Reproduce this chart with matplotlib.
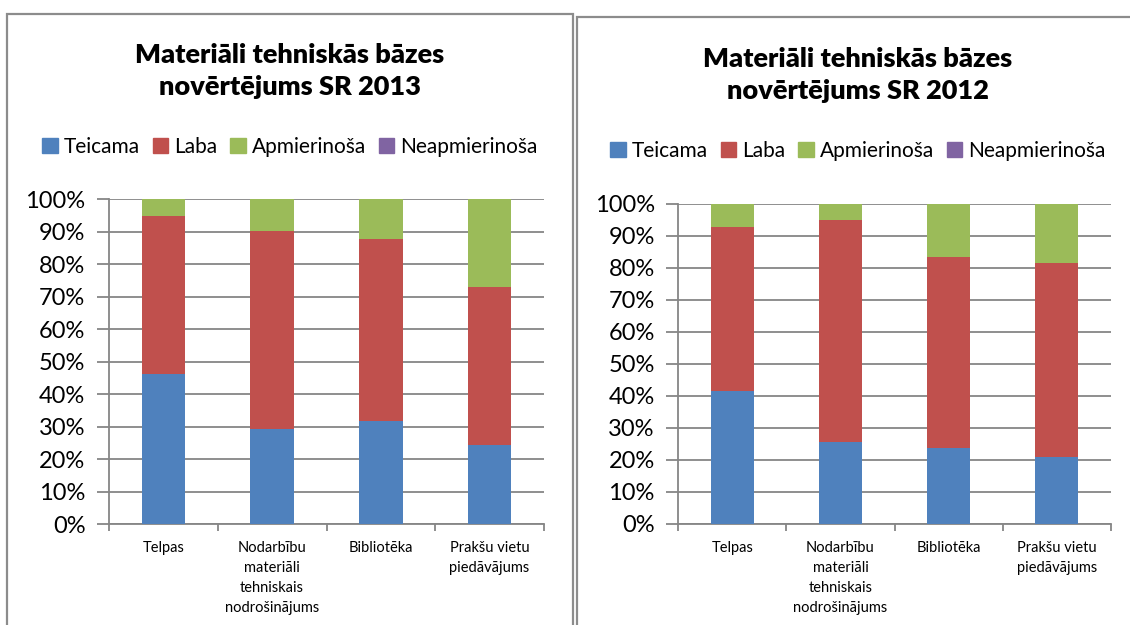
import numpy as np
import matplotlib
matplotlib.use("Agg")
import matplotlib.pyplot as plt
from matplotlib.patches import Rectangle, Patch

plt.rcParams['font.family'] = ['Lato', 'DejaVu Sans']

# data (percent)
categories = ["Telpas", "Nodarbību\nmateriāli\ntehniskais\nnodrošinājums",
              "Bibliotēka", "Prakšu vietu\npiedāvājums"]
series = ["Teicama", "Laba", "Apmierinoša", "Neapmierinoša"]
colors = ["#4F81BD", "#C0504D", "#9BBB59", "#8064A2"]

teicama_2013 = [46.3, 29.2, 31.7, 24.3]
laba_2013 = [48.7, 61.0, 56.1, 48.8]
apmier_2013 = [5.0, 9.8, 12.2, 26.9]
neapmier_2013 = [0, 0, 0, 0]

teicama_2012 = [41.5, 25.5, 23.9, 20.9]
laba_2012 = [51.3, 69.6, 59.5, 60.8]
apmier_2012 = [7.2, 4.9, 16.6, 18.3]
neapmier_2012 = [0, 0, 0, 0]

W, H = 1130, 625
fig = plt.figure(figsize=(W / 100, H / 100), dpi=100)
grid_c = "#868686"


def px(x0, y0, x1, y1):
    # pixel box (top-left origin) -> figure fraction
    return [x0 / W, 1 - y1 / H, (x1 - x0) / W, (y1 - y0) / H]


def draw(box, data, title, title_xy, leg_y):
    ax = fig.add_axes(px(*box))
    x = np.arange(len(categories))
    bottom = np.zeros(len(categories))
    for vals, c in zip(data, colors):
        ax.bar(x, vals, width=0.4, bottom=bottom, color=c, zorder=3)
        bottom += np.array(vals)
    ax.set_xlim(-0.5, 3.5)
    ax.set_ylim(0, 100)
    ax.set_yticks(np.arange(0, 101, 10))
    ax.set_yticklabels([f"{v}%" for v in range(0, 101, 10)], fontsize=17)
    ax.yaxis.grid(True, color=grid_c, lw=1.3, zorder=0)
    ax.tick_params(axis='y', length=9, width=1.3, color=grid_c, pad=8)
    ax.set_xticks(x)
    ax.set_xticklabels(categories, fontsize=10.5, linespacing=1.55, va='top')
    ax.tick_params(axis='x', length=0, pad=12)
    ax.set_xticks(np.arange(-0.5, 4, 1), minor=True)
    ax.tick_params(axis='x', which='minor', length=5, width=1.3, color=grid_c)
    for s in ["top", "right"]:
        ax.spines[s].set_visible(False)
    for s in ["left", "bottom"]:
        ax.spines[s].set_color(grid_c)
        ax.spines[s].set_linewidth(1.3)
    fig.text(title_xy[0] / W, 1 - title_xy[1] / H, title, ha='center', va='center',
             fontsize=19.5, fontweight='heavy', linespacing=1.42)
    handles = [Patch(color=c, label=s) for s, c in zip(series, colors)]
    fig.legend(handles=handles, loc='center', ncol=4, frameon=False,
               bbox_to_anchor=(title_xy[0] / W, 1 - leg_y / H), fontsize=15,
               handlelength=0.75, handleheight=0.75, handletextpad=0.3,
               columnspacing=0.6, borderaxespad=0)


draw((109, 199.3, 544, 524.3),
     [teicama_2013, laba_2013, apmier_2013, neapmier_2013],
     "Materiāli tehniskās bāzes\nnovērtējums SR 2013", (290, 71), 147)
draw((678.3, 204, 1110.7, 524),
     [teicama_2012, laba_2012, apmier_2012, neapmier_2012],
     "Materiāli tehniskās bāzes\nnovērtējums SR 2012", (858, 75), 151)

# panel borders
for (x0, y0, x1) in [(7, 13.5, 573), (577, 16.5, 1140)]:
    fig.patches.append(Rectangle((x0 / W, -0.05), (x1 - x0) / W, 1.05 - y0 / H,
                                 transform=fig.transFigure, fill=False,
                                 edgecolor="#8C8C8C", lw=1.6))

fig.savefig("out.png", dpi=100)
